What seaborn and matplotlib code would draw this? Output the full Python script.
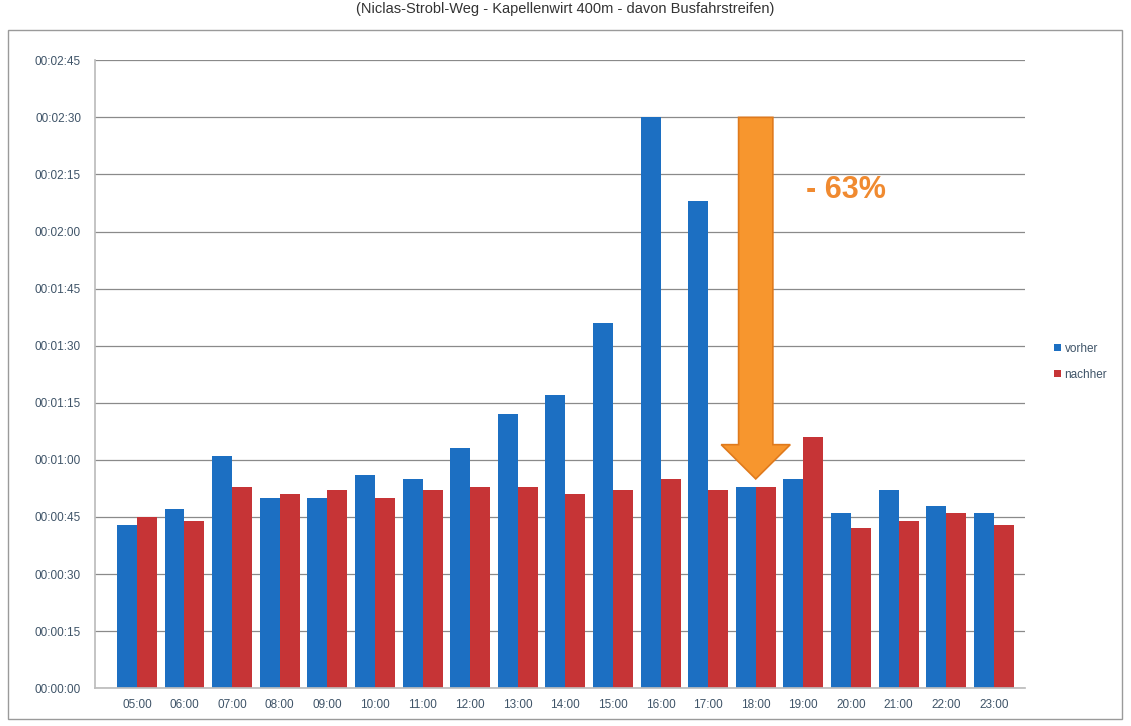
import numpy as np
import pandas as pd
import matplotlib
matplotlib.use("Agg")
import matplotlib.pyplot as plt
import seaborn as sns
from matplotlib.patches import FancyArrow, Rectangle
from matplotlib.ticker import FuncFormatter, MultipleLocator

# ---- data (travel time in seconds) ----
hours = ["05:00", "06:00", "07:00", "08:00", "09:00", "10:00", "11:00", "12:00",
         "13:00", "14:00", "15:00", "16:00", "17:00", "18:00", "19:00", "20:00",
         "21:00", "22:00", "23:00"]
vorher = [43, 47, 61, 50, 50, 56, 55, 63, 72, 77, 96, 150, 128, 53, 55, 46, 52, 48, 46]
nachher = [45, 44, 53, 51, 52, 50, 52, 53, 53, 51, 52, 55, 52, 53, 66, 42, 44, 46, 43]
series_names = ["vorher", "nachher"]
title_text = "(Niclas-Strobl-Weg - Kapellenwirt 400m - davon Busfahrstreifen)"
annot_text = "- 63%"
annot_hour = "18:00"
y_max = 165
y_step = 15

df = pd.DataFrame({
    "Stunde": hours * 2,
    "Zeit": vorher + nachher,
    "Serie": [series_names[0]] * len(hours) + [series_names[1]] * len(hours),
})

sns.set_theme(style="white")
plt.rcParams["font.family"] = ["Liberation Sans", "DejaVu Sans"]

fig = plt.figure(figsize=(11.31, 7.26), dpi=100)
ax = fig.add_axes([0.084, 0.052, 0.822, 0.865])

blue = "#1C6FC2"
red = "#C63436"
sns.barplot(data=df, x="Stunde", y="Zeit", hue="Serie", order=hours,
            hue_order=series_names, palette=[blue, red], width=0.84,
            saturation=1, edgecolor="none", ax=ax, legend=True)

# y axis formatting
ax.set_ylim(0, y_max)
ax.yaxis.set_major_locator(MultipleLocator(y_step))
ax.yaxis.set_major_formatter(FuncFormatter(
    lambda v, p: "%02d:%02d:%02d" % (int(v) // 3600, (int(v) % 3600) // 60, int(v) % 60)))
ax.set_xlim(-0.88, len(hours) - 0.35)
ax.set_xlabel("")
ax.set_ylabel("")
ax.grid(axis="y", color="#8a8a8a", linewidth=0.9)
ax.set_axisbelow(True)
for s in ["top", "right"]:
    ax.spines[s].set_visible(False)
ax.spines["left"].set_color("#bdbdbd")
ax.spines["bottom"].set_color("#bdbdbd")
ax.tick_params(axis="both", colors="#bdbdbd", length=4, direction="out",
               labelsize=8.5, labelcolor="#3f5468")
ax.tick_params(axis="y", pad=6)

# legend
handles, labels = ax.get_legend_handles_labels()
ax.legend(handles, labels, loc="center left", bbox_to_anchor=(1.02, 0.52),
          frameon=False, fontsize=8.5, handlelength=0.6, handleheight=0.6,
          handletextpad=0.3, labelspacing=1.2, labelcolor="#3f5468")

# orange arrow and annotation
ai = hours.index(annot_hour)
tip = max(vorher[ai], nachher[ai]) + 2
top = max(vorher)
arrow = FancyArrow(ai, top, 0, -(top - tip), width=0.72, head_width=1.45,
                   head_length=9, length_includes_head=True,
                   facecolor="#F7962E", edgecolor="#E07A1C", linewidth=1.2, zorder=5)
ax.add_patch(arrow)
ax.text(ai + 1.9, 131, annot_text, color="#F08A30", fontsize=22,
        fontweight="bold", ha="center", va="center", zorder=6)

# title (partially cropped in reference) and chart border
fig.text(0.5, 0.988, title_text, ha="center", va="center", fontsize=10.5,
         color="#333333")
fig.add_artist(Rectangle((0.007, 0.01), 0.985, 0.948, transform=fig.transFigure,
                         fill=False, edgecolor="#9a9a9a", linewidth=1.0))

fig.savefig("out.png", dpi=100)
